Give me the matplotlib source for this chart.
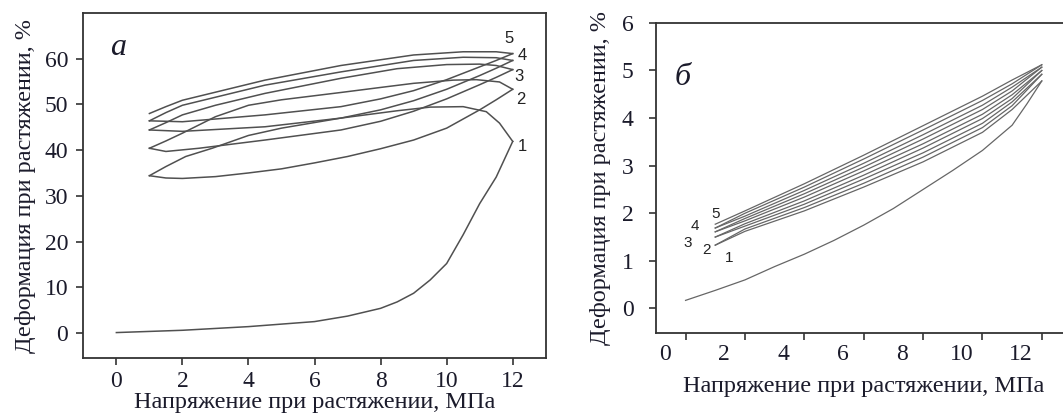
import matplotlib
matplotlib.use('Agg')
import matplotlib.pyplot as plt
from matplotlib.transforms import ScaledTranslation

# --- panel а: large-deformation loops ---
load1_x = [0, 2, 4, 6, 7, 8, 8.5, 9, 9.5, 10, 10.5, 11, 11.5, 12]
load1_y = [0.1, 0.6, 1.4, 2.5, 3.7, 5.4, 6.8, 8.7, 11.6, 15.2, 21.5, 28.3, 34.1, 41.9]

unload1_x = [12, 11.6, 11.2, 10.5, 9.5, 8.5, 6.8, 5, 4, 2.9, 2.1, 1.5, 1]
unload1_y = [41.9, 45.9, 48.4, 49.5, 49.4, 48.6, 47.0, 44.8, 43.2, 40.4, 38.6, 36.4, 34.4]

load2_x = [1, 1.5, 2, 3, 4, 5, 6, 7, 8, 9, 10, 11, 11.5, 12]
load2_y = [34.4, 33.9, 33.8, 34.2, 35.0, 35.9, 37.2, 38.6, 40.3, 42.2, 44.8, 48.8, 51.0, 53.3]

unload2_x = [12, 11.6, 10.9, 10.2, 9, 8, 6.8, 5, 4, 3, 2, 1.5, 1]
unload2_y = [53.3, 54.9, 55.4, 55.3, 54.6, 53.7, 52.6, 51.0, 49.8, 47.3, 43.7, 42.0, 40.4]

load3_x = [1, 1.5, 2.5, 4.5, 6.8, 8, 9, 10, 11, 11.5, 12]
load3_y = [40.4, 39.7, 40.4, 42.2, 44.4, 46.3, 48.5, 51.2, 54.3, 55.9, 57.6]

unload3_x = [12, 11.5, 11, 10, 8.5, 6.8, 4.5, 3, 2, 1.5, 1]
unload3_y = [57.6, 58.5, 58.8, 58.7, 57.8, 55.7, 52.4, 49.8, 47.7, 46.0, 44.4]

load4_x = [1, 2, 4.5, 6.8, 8, 9, 10, 11, 11.5, 12]
load4_y = [44.4, 44.1, 45.1, 47.0, 48.8, 50.8, 53.3, 56.3, 57.9, 59.6]

unload4_x = [12, 11.5, 10.5, 9, 6.8, 4.5, 2, 1.5, 1]
unload4_y = [59.6, 60.2, 60.3, 59.6, 57.1, 54.2, 49.8, 48.2, 46.4]

load5_x = [1, 2, 4.5, 6.8, 8, 9, 10, 11, 11.5, 12]
load5_y = [46.4, 46.2, 47.7, 49.5, 51.2, 53.0, 55.4, 58.2, 59.6, 61.1]

unload5_x = [12, 11.5, 10.5, 9, 6.8, 4.5, 2, 1.5, 1]
unload5_y = [61.1, 61.5, 61.5, 60.8, 58.5, 55.3, 50.9, 49.5, 48.0]

curves_a = [(load1_x, load1_y), (unload1_x, unload1_y),
            (load2_x, load2_y), (unload2_x, unload2_y),
            (load3_x, load3_y), (unload3_x, unload3_y),
            (load4_x, load4_y), (unload4_x, unload4_y),
            (load5_x, load5_y), (unload5_x, unload5_y)]

cycle_labels = ['1', '2', '3', '4', '5']
labels_a_x = [12.3, 12.25, 12.2, 12.3, 11.9]
labels_a_y = [40.8, 51.0, 56.2, 60.7, 64.3]

# --- panel б: small-deformation loops ---
initial_b_x = [0, 1, 2, 3, 4, 5, 6, 7, 8, 9, 10, 11, 11.5, 12]
initial_b_y = [0.17, 0.38, 0.6, 0.88, 1.14, 1.43, 1.75, 2.1, 2.5, 2.9, 3.32, 3.85, 4.3, 4.78]

loop_b_x = [12, 11, 10, 8, 6, 4, 2, 1]
unload1_b = [4.78, 4.18, 3.70, 3.08, 2.55, 2.05, 1.62, 1.33]
load2_b = [4.92, 4.26, 3.80, 3.18, 2.63, 2.12, 1.67, 1.33]
unload2_b = [4.92, 4.34, 3.89, 3.27, 2.72, 2.19, 1.73, 1.50]
load3_b = [5.00, 4.41, 3.99, 3.37, 2.80, 2.26, 1.78, 1.50]
unload3_b = [5.00, 4.49, 4.08, 3.46, 2.89, 2.34, 1.84, 1.61]
load4_b = [5.07, 4.57, 4.18, 3.56, 2.97, 2.41, 1.89, 1.61]
unload4_b = [5.07, 4.65, 4.27, 3.65, 3.05, 2.48, 1.94, 1.69]
load5_b = [5.12, 4.72, 4.37, 3.75, 3.14, 2.55, 2.00, 1.69]
unload5_b = [5.12, 4.80, 4.46, 3.84, 3.22, 2.62, 2.05, 1.77]

loops_b = [unload1_b, load2_b, unload2_b, load3_b, unload3_b,
           load4_b, unload4_b, load5_b, unload5_b]

labels_b_x = [1.46, 0.7, 0.08, 0.3, 1.0]
labels_b_y = [1.05, 1.22, 1.38, 1.73, 1.99]

xticks = [0, 2, 4, 6, 8, 10, 12]
yticks_a = [0, 10, 20, 30, 40, 50, 60]
yticks_b = [0, 1, 2, 3, 4, 5, 6]

xlabel = 'Напряжение при растяжении, МПа'
ylabel = 'Деформация при растяжении, %'

plt.rcParams['font.family'] = ['Liberation Serif', 'DejaVu Serif']
text_color = '#1b1b2b'
spine_color = '#333333'

fig = plt.figure(figsize=(10.63, 4.16), dpi=100)
ax1 = fig.add_axes([0.0784, 0.139, 0.435, 0.830])
ax2 = fig.add_axes([0.617, 0.199, 0.391, 0.746])

for ax in (ax1, ax2):
    for s in ax.spines.values():
        s.set_color(spine_color)
        s.set_linewidth(1.3)
    ax.tick_params(direction='out', length=5, width=1.2, color=spine_color,
                   labelsize=17, labelcolor=text_color)
    ax.set_xticks(xticks)

# panel а
for cx, cy in curves_a:
    ax1.plot(cx, cy, color='#505050', lw=1.1)
for lab, lx, ly in zip(cycle_labels, labels_a_x, labels_a_y):
    ax1.text(lx, ly, lab, fontsize=12, family='Liberation Sans', color='#222222',
             ha='center', va='center')
ax1.text(0.05, 62.5, 'а', fontsize=23, style='italic', color=text_color,
         ha='center', va='center')
ax1.set_xlim(-1, 13)
ax1.set_ylim(-5.5, 70)
ax1.set_yticks(yticks_a)
ax1.tick_params(axis='y', pad=6)
ax1.tick_params(axis='x', pad=4)
ax1.set_xlabel(xlabel, fontsize=17.5, color=text_color, labelpad=0)
ax1.set_ylabel(ylabel, fontsize=17.5, color=text_color, labelpad=6)

# panel б
ax2.plot(initial_b_x, initial_b_y, color='#666666', lw=0.9)
for ly in loops_b:
    ax2.plot(loop_b_x, ly, color='#666666', lw=0.9)
for lab, lx, ly in zip(cycle_labels, labels_b_x, labels_b_y):
    ax2.text(lx, ly, lab, fontsize=11, family='Liberation Sans', color='#222222',
             ha='center', va='center')
ax2.text(-0.1, 4.85, 'б', fontsize=23, style='italic', color=text_color,
         ha='center', va='center')
ax2.set_xlim(-1, 13)
ax2.set_ylim(-0.52, 6.0)
ax2.set_yticks(yticks_b)
ax2.tick_params(axis='y', pad=11)
ax2.tick_params(axis='x', pad=3)
ax2.set_xlabel(xlabel, fontsize=17.5, color=text_color, labelpad=8)
ax2.set_ylabel(ylabel, fontsize=17.5, color=text_color, labelpad=8)

# the x tick labels of panel б sit a bit left of their ticks in the original
shift = ScaledTranslation(-0.21, 0, fig.dpi_scale_trans)
for t in ax2.get_xticklabels():
    t.set_transform(t.get_transform() + shift)

fig.savefig('out.png', dpi=100)
